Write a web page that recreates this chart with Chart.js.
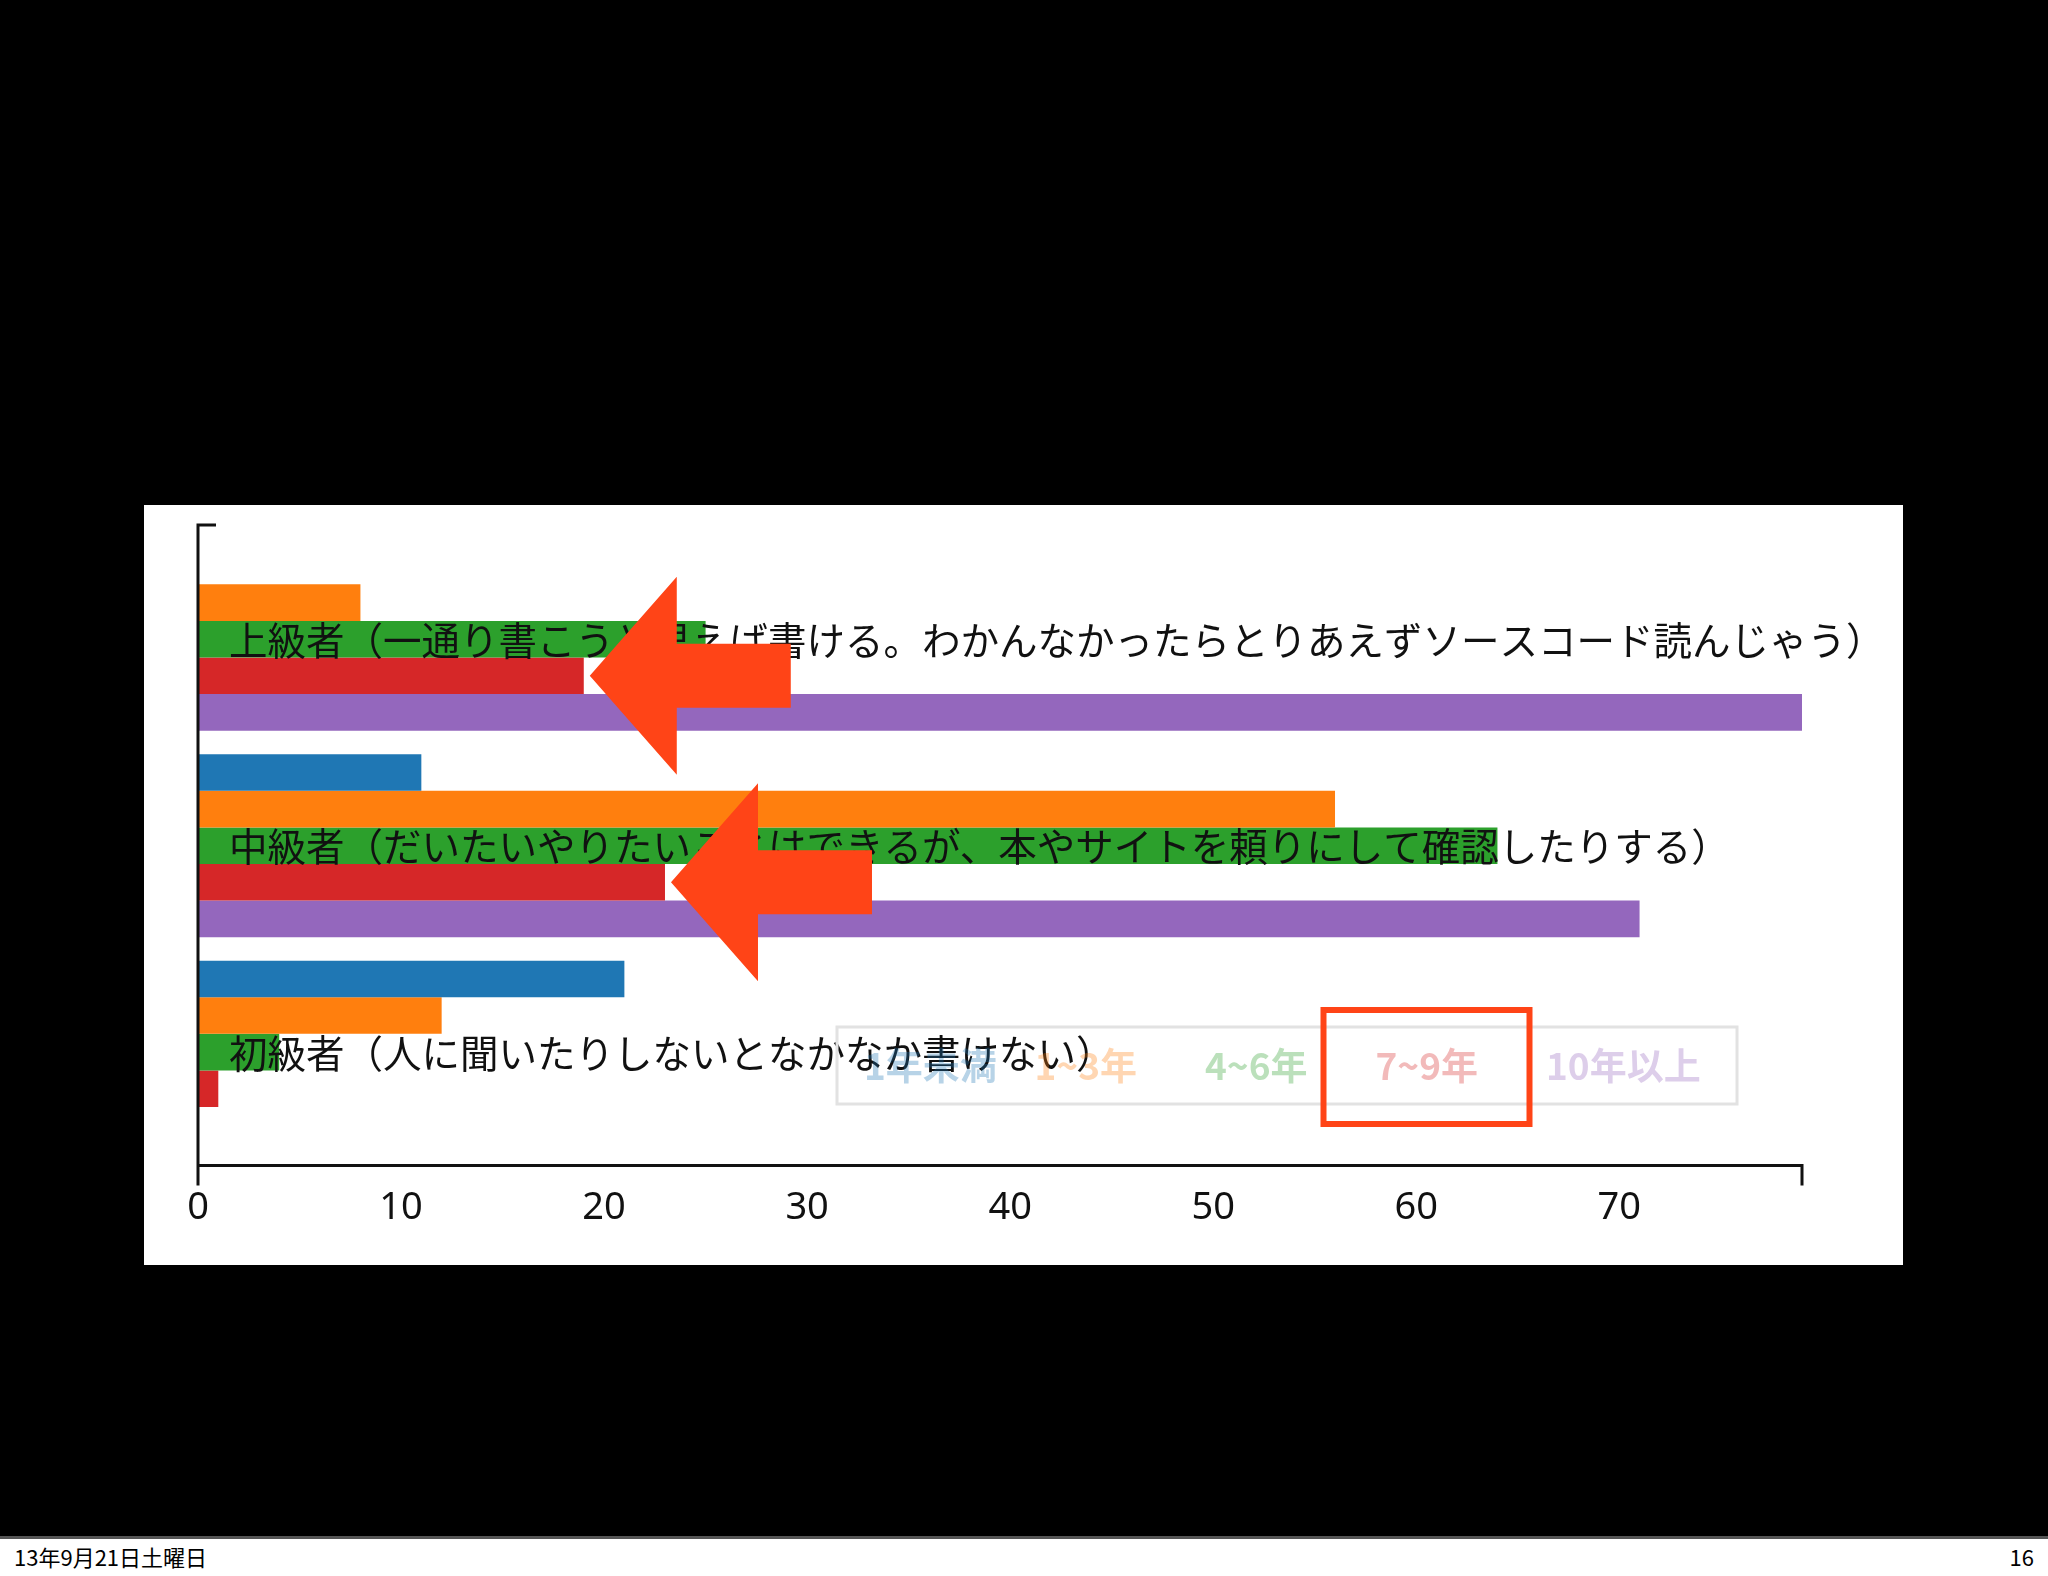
<!DOCTYPE html>
<html>
<head>
<meta charset="utf-8">
<script src="https://cdn.jsdelivr.net/npm/chart.js@4"></script>
<style>
  body { margin: 0; width: 2048px; height: 1576px; background: #000; position: relative; overflow: hidden; }
  #panel { position: absolute; left: 144px; top: 505px; width: 1759px; height: 760px; background: #fff; }
  #footer { position: absolute; left: 0; top: 1536px; width: 2048px; height: 40px; background: #fff; border-top: 3px solid #555;
    font-family: "Noto Sans CJK JP", sans-serif; font-size: 22px; color: #000; }
  #footer .l { position: absolute; left: 14px; top: 1px; }
  #footer .r { position: absolute; right: 14px; top: 1px; }
</style>
</head>
<body>
<div id="panel"><canvas id="myChart"></canvas></div>
<div id="footer"><span class="l">13年9月21日土曜日</span><span class="r">16</span></div>
<script>
const categories = [
  '上級者（一通り書こうと思えば書ける。わかんなかったらとりあえずソースコード読んじゃう）',
  '中級者（だいたいやりたいことはできるが、本やサイトを頼りにして確認したりする）',
  '初級者（人に聞いたりしないとなかなか書けない）'
]
const seriesNames = ['1年未満', '1~3年', '4~6年', '7~9年', '10年以上']
const seriesColors = ['#1f77b4', '#ff7f0e', '#2ca02c', '#d62728', '#9467bd']
const under1 = [0, 11, 21]
const y1to3 = [8, 56, 12]
const y4to6 = [25, 64, 4]
const y7to9 = [19, 23, 1]
const over10 = [79, 71, 0]
const xTicks = [0, 10, 20, 30, 40, 50, 60, 70]
const xMax = 79

const values = [under1, y1to3, y4to6, y7to9, over10]
const arrowColor = '#ff4417'

// axis lines like the original (slightly outside the plot area)
const axisLines = {
  id: 'axisLines',
  afterDraw(chart) {
    const ctx = chart.ctx
    const a = chart.chartArea
    const xs = chart.scales.x
    const x0 = xs.getPixelForValue(0)
    const x1 = xs.getPixelForValue(xMax)
    const top = a.top - 11
    const base = a.bottom + 10
    ctx.save()
    ctx.strokeStyle = '#111'
    ctx.lineWidth = 3
    ctx.beginPath()
    ctx.moveTo(x0 + 18, top)
    ctx.lineTo(x0, top)
    ctx.lineTo(x0, base + 20)
    ctx.moveTo(x0, base)
    ctx.lineTo(x1, base)
    ctx.lineTo(x1, base + 20)
    ctx.stroke()
    ctx.restore()
  }
}

// category names written across the bars
const catLabels = {
  id: 'catLabels',
  afterDatasetsDraw(chart) {
    const ctx = chart.ctx
    const ys = chart.scales.y
    const x = chart.scales.x.getPixelForValue(0) + 31
    ctx.save()
    ctx.font = '38.5px "Noto Sans CJK JP"'
    ctx.fillStyle = '#111'
    ctx.textBaseline = 'middle'
    categories.forEach((c, i) => {
      ctx.fillText(c, x, ys.getPixelForValue(i) + 1)
    })
    ctx.restore()
  }
}

// faded legend box + red marks drawn on top of the slide
const notes = {
  id: 'notes',
  afterDraw(chart) {
    const ctx = chart.ctx
    ctx.save()
    ctx.strokeStyle = '#e2e2e2'
    ctx.lineWidth = 3
    ctx.strokeRect(693, 522, 900, 77)
    ctx.font = 'bold 37px "Noto Sans CJK JP"'
    ctx.textBaseline = 'middle'
    const lefts = []
    seriesNames.forEach((n, i) => {
      const lx = 720 + i * 170.5
      lefts.push(lx)
      ctx.fillStyle = seriesColors[i]
      ctx.globalAlpha = 0.32
      ctx.fillText(n, lx, 561)
    })
    ctx.globalAlpha = 1

    // arrows pointing at the 7~9年 bars
    const meta = chart.getDatasetMeta(3)
    ;[0, 1].forEach(i => {
      const bar = meta.data[i]
      const tx = bar.x + 6
      const ty = bar.y
      ctx.fillStyle = arrowColor
      ctx.beginPath()
      ctx.moveTo(tx, ty)
      ctx.lineTo(tx + 87, ty - 99)
      ctx.lineTo(tx + 87, ty - 32)
      ctx.lineTo(tx + 201, ty - 32)
      ctx.lineTo(tx + 201, ty + 32)
      ctx.lineTo(tx + 87, ty + 32)
      ctx.lineTo(tx + 87, ty + 99)
      ctx.closePath()
      ctx.fill()
    })

    // box around 7~9年 in the legend
    ctx.strokeStyle = arrowColor
    ctx.lineWidth = 6
    ctx.strokeRect(lefts[3] - 52, 505, 206, 114)
    ctx.restore()
  }
}

const ctx = document.getElementById('myChart').getContext('2d')
const myChart = new Chart(ctx, {
  type: 'bar',
  data: {
    labels: categories,
    datasets: seriesNames.map((n, i) => ({
      label: n,
      data: values[i],
      backgroundColor: seriesColors[i],
      borderWidth: 0,
      barPercentage: 1,
      categoryPercentage: 0.886
    }))
  },
  options: {
    indexAxis: 'y',
    responsive: true,
    maintainAspectRatio: false,
    animation: false,
    layout: { padding: { left: 54, right: 101, top: 31, bottom: 4 } },
    plugins: {
      legend: { display: false },
      tooltip: { enabled: false }
    },
    scales: {
      x: {
        min: 0,
        max: xMax,
        afterBuildTicks: scale => { scale.ticks = xTicks.map(v => ({ value: v })) },
        grid: { display: false, drawTicks: false },
        border: { display: false },
        ticks: {
          padding: 30,
          color: '#111',
          font: { family: '"Noto Sans"', size: 38 },
          maxRotation: 0,
          autoSkip: false
        }
      },
      y: {
        display: false,
        grid: { display: false }
      }
    }
  },
  plugins: [axisLines, catLabels, notes]
})
</script>
</body>
</html>
